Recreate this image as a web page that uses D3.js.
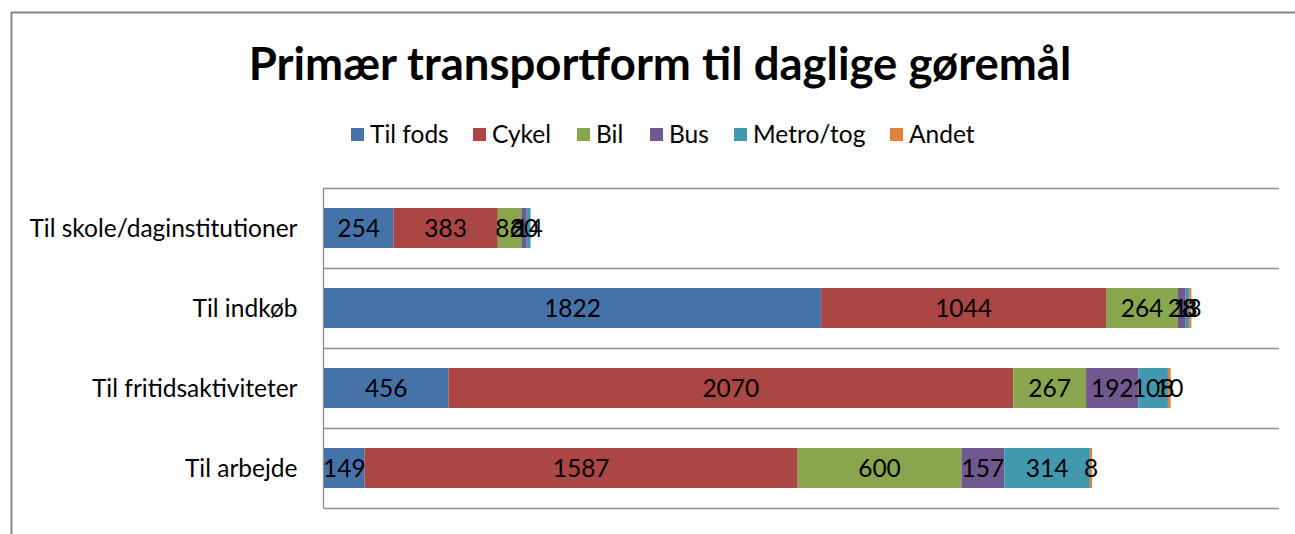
<!DOCTYPE html>
<html><head><meta charset="utf-8">
<script src="https://cdn.jsdelivr.net/npm/d3@7"></script>
<style>body{margin:0;background:#fff}svg{display:block}text{font-family:Lato,"Open Sans",sans-serif}</style>
</head><body><svg id="c" width="1295" height="534"></svg>
<script>
const categories = ["Til skole/daginstitutioner","Til indkøb","Til fritidsaktiviteter","Til arbejde"];
const seriesNames = ["Til fods","Cykel","Bil","Bus","Metro/tog","Andet"];
const tilFods = [254,1822,456,149];
const cykel   = [383,1044,2070,1587];
const bil     = [86,264,267,600];
const bus     = [20,28,192,157];
const metro   = [14,13,108,314];
const andet   = [0,8,10,8];
const colors  = ["#4572A7","#AA4643","#89A54E","#71588F","#4198AF","#DB843D"];
const xMax = 3500;

const series = [tilFods,cykel,bil,bus,metro,andet];
const svg = d3.select("#c");
const W=1295,H=534;
const L=323.5,R=1279,T=188,B=508;
const FS=24.5;

// outer frame
svg.append("path").attr("d",`M11.5,${H} V12.5 H${W}`).attr("fill","none").attr("stroke","#868686").attr("stroke-width",2);

svg.append("text").attr("x",660).attr("y",80).attr("text-anchor","middle")
  .attr("font-size",45.5).attr("font-weight","bold").attr("fill","#000")
  .text("Primær transportform til daglige gøremål");

// legend
const legX=[351,473,577,650,734,890];
const leg=svg.append("g");
seriesNames.forEach((n,i)=>{
  leg.append("rect").attr("x",legX[i]).attr("y",128).attr("width",13).attr("height",13).attr("fill",colors[i]);
  leg.append("text").attr("x",legX[i]+19).attr("y",143).attr("font-size",FS).attr("fill","#000").text(n);
});

const x=d3.scaleLinear().domain([0,xMax]).range([L+0.5,R]);
const y=d3.scaleBand().domain(categories).range([T,B]).paddingInner(0.5).paddingOuter(0.25);

const gl=d3.range(categories.length+1).map(i=>T+i*(B-T)/categories.length);
svg.append("g").selectAll("line").data(gl).join("line")
  .attr("x1",L).attr("x2",R).attr("y1",d=>Math.round(d)+0.5).attr("y2",d=>Math.round(d)+0.5)
  .attr("stroke","#8c8c8c").attr("stroke-width",1.3);

const rows=categories.map((c,ci)=>{const o={cat:c};seriesNames.forEach((s,si)=>o[s]=series[si][ci]);return o;});
const stack=d3.stack().keys(seriesNames)(rows);

const g=svg.append("g");
stack.forEach((layer,si)=>{
  g.append("g").selectAll("rect").data(layer).join("rect")
    .attr("x",d=>x(d[0])).attr("width",d=>x(d[1])-x(d[0]))
    .attr("y",d=>y(d.data.cat)).attr("height",y.bandwidth())
    .attr("fill",colors[si]);
});
stack.forEach((layer,si)=>{
  g.append("g").selectAll("text").data(layer.filter(d=>d[1]-d[0]>0)).join("text")
    .attr("x",d=>(x(d[0])+x(d[1]))/2).attr("y",d=>y(d.data.cat)+y.bandwidth()/2+8.5)
    .attr("text-anchor","middle").attr("font-size",FS).attr("fill","#000")
    .text(d=>d[1]-d[0]);
});

const ax=d3.axisLeft(y).tickSize(0).tickPadding(26);
const axg=svg.append("g").attr("transform",`translate(${L},0)`).call(ax);
axg.select(".domain").attr("stroke","#8c8c8c").attr("stroke-width",1.3).attr("d",`M0,${T}V${B}`);
axg.selectAll("text").attr("font-size",FS).attr("fill","#000").attr("font-family","Lato").attr("dy","0.35em");
</script></body></html>
